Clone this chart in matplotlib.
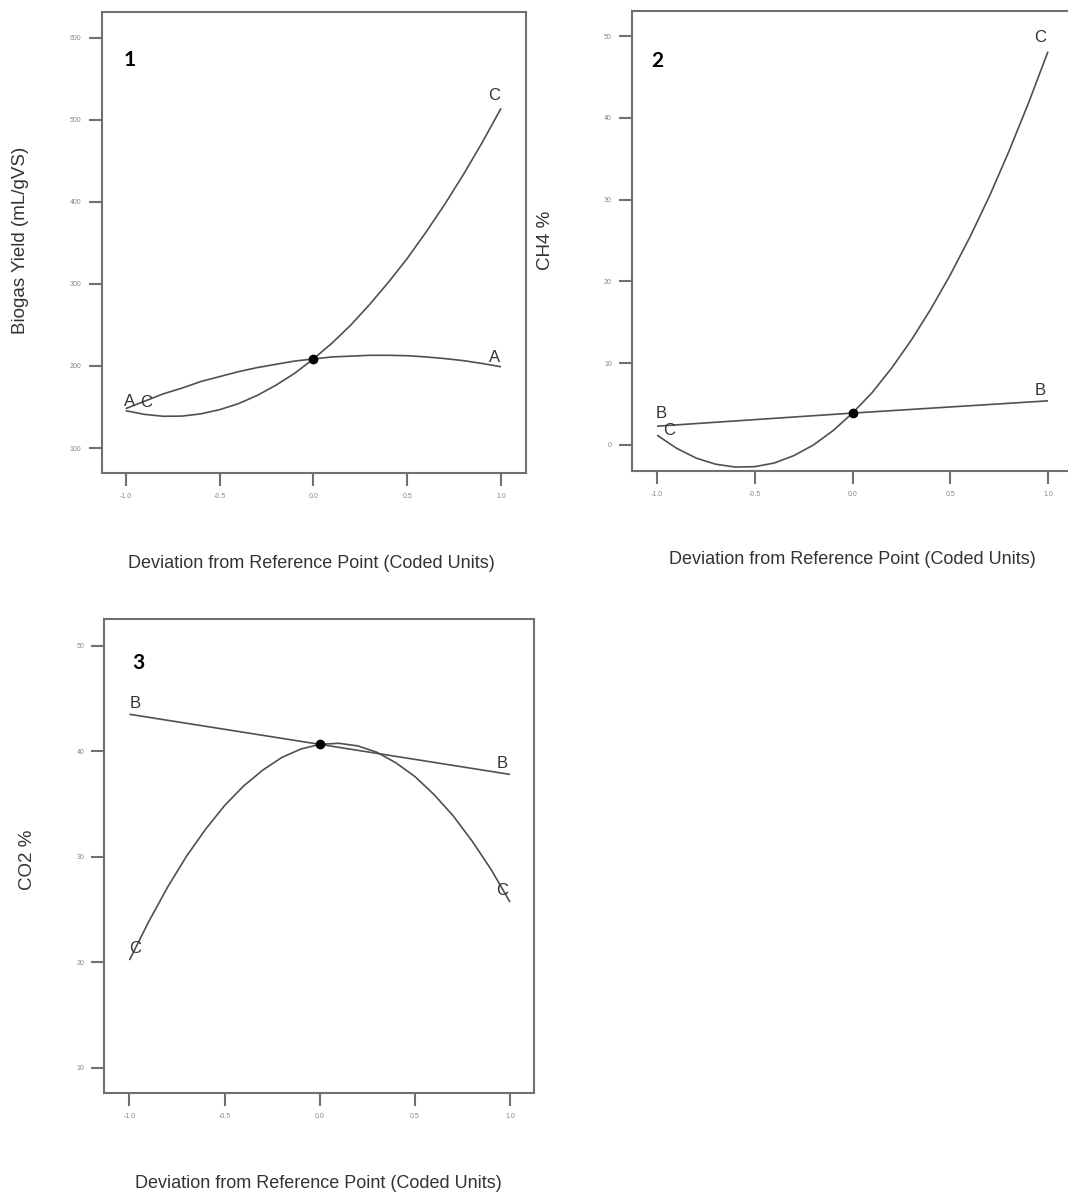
import matplotlib
matplotlib.use('Agg')
import matplotlib.pyplot as plt

plt.rcParams['font.family'] = ['Liberation Sans', 'DejaVu Sans']

# coded deviation from the reference point
x_dev = [-1.0, -0.9, -0.8, -0.7, -0.6, -0.5, -0.4, -0.3, -0.2, -0.1, 0.0,
         0.1, 0.2, 0.3, 0.4, 0.5, 0.6, 0.7, 0.8, 0.9, 1.0]

# panel 1 - biogas yield (mL/gVS)
yield_A = [148, 157, 166, 173, 181, 187, 193, 198, 202, 206, 208.5,
           211, 212, 213, 213, 212.5, 211, 209, 206.5, 203, 199]
yield_C = [145.5, 141, 138.7, 138.9, 141.6, 146.7, 154, 164, 176.5, 191, 208.5,
           228, 250, 275, 302, 331, 363, 397, 433.5, 472.5, 514]

# panel 2 - CH4 %
ch4_B_x = [-1.0, 0.0, 1.0]
ch4_B = [2.3, 3.9, 5.4]
ch4_C = [1.2, -0.4, -1.6, -2.35, -2.7, -2.65, -2.2, -1.3, 0.0, 1.75, 3.9,
         6.4, 9.4, 12.8, 16.6, 20.8, 25.4, 30.4, 35.9, 41.8, 48.1]

# panel 3 - CO2 %
co2_B_x = [-1.0, 0.0, 1.0]
co2_B = [43.5, 40.65, 37.8]
co2_C = [20.2, 23.8, 27.1, 30.05, 32.6, 34.85, 36.7, 38.2, 39.4, 40.2, 40.65,
         40.75, 40.5, 39.9, 38.9, 37.6, 35.9, 33.9, 31.5, 28.8, 25.7]

x_ticks = [-1.0, -0.5, 0.0, 0.5, 1.0]
x_title = 'Deviation from Reference Point (Coded Units)'

line_col = '#505050'
spine_col = '#707070'
text_col = '#333333'


def style_axes(ax, xlim, ylim, yticks):
    ax.set_xlim(*xlim)
    ax.set_ylim(*ylim)
    ax.set_xticks(x_ticks)
    ax.set_xticklabels(['%.1f' % t for t in x_ticks])
    ax.set_yticks(yticks)
    ax.set_yticklabels([str(t) for t in yticks])
    for s in ax.spines.values():
        s.set_color(spine_col)
        s.set_linewidth(1.5)
    ax.tick_params(direction='out', length=9.5, width=1.5, color=spine_col,
                   labelsize=5, labelcolor='#888888', pad=5)


def draw_curve(ax, xs, ys, label_pts, name):
    ax.plot(xs, ys, color=line_col, lw=1.2, solid_capstyle='butt')
    for lx, ly in label_pts:
        ax.text(lx, ly, name, ha='center', va='center', fontsize=12, color=text_col)


fig = plt.figure(figsize=(10.68, 12), dpi=100)

# panel 1
ax1 = fig.add_axes([0.0952, 0.6058, 0.3973, 0.3844])
draw_curve(ax1, x_dev, yield_A, [(-0.98, 157), (0.963, 210)], 'A')
draw_curve(ax1, x_dev, yield_C, [(-0.89, 155), (0.963, 530)], 'C')
ax1.plot([0.0], [208.5], 'o', color='black', ms=6)
ax1.text(-0.977, 573, '1', fontsize=15, fontweight='bold', ha='center', va='center',
         family=['Lato', 'DejaVu Sans'])
style_axes(ax1, (-1.128, 1.133), (69.5, 631.7), [100, 200, 300, 400, 500, 600])
fig.text(21 / 1068, 1 - 240 / 1200, 'Biogas Yield (mL/gVS)', rotation=90,
         ha='center', va='center', fontsize=13.5, color=text_col)
fig.text(311 / 1068, 1 - 563 / 1200, x_title, ha='center', va='center',
         fontsize=13, color=text_col)

# panel 2 (right edge runs past the figure)
ax2 = fig.add_axes([0.5918, 0.6075, 0.4129, 0.3833])
draw_curve(ax2, ch4_B_x, ch4_B, [(-0.98, 3.8), (0.96, 6.7)], 'B')
draw_curve(ax2, x_dev, ch4_C, [(-0.94, 1.8), (0.96, 49.8)], 'C')
ax2.plot([0.0], [3.9], 'o', color='black', ms=6)
ax2.text(-1.0, 47, '2', fontsize=15, fontweight='bold', ha='center', va='center',
         family=['Lato', 'DejaVu Sans'])
style_axes(ax2, (-1.128, 1.128), (-3.18, 53.06), [0, 10, 20, 30, 40, 50])
fig.text(545 / 1068, 1 - 240 / 1200, 'CH4 %', rotation=90,
         ha='center', va='center', fontsize=13.5, color=text_col)
fig.text(852 / 1068, 1 - 560 / 1200, x_title, ha='center', va='center',
         fontsize=13, color=text_col)

# panel 3
ax3 = fig.add_axes([0.0977, 0.0889, 0.4023, 0.395])
draw_curve(ax3, co2_B_x, co2_B, [(-0.97, 44.5), (0.96, 38.8)], 'B')
draw_curve(ax3, x_dev, co2_C, [(-0.97, 21.3), (0.96, 26.8)], 'C')
ax3.plot([0.0], [40.65], 'o', color='black', ms=6)
ax3.text(-0.954, 48.4, '3', fontsize=15, fontweight='bold', ha='center', va='center',
         family=['Lato', 'DejaVu Sans'])
style_axes(ax3, (-1.132, 1.126), (7.57, 52.5), [10, 20, 30, 40, 50])
fig.text(28 / 1068, 1 - 860 / 1200, 'CO2 %', rotation=90,
         ha='center', va='center', fontsize=13.5, color=text_col)
fig.text(318 / 1068, 1 - 1183 / 1200, x_title, ha='center', va='center',
         fontsize=13, color=text_col)

fig.savefig('out.png', dpi=100)
